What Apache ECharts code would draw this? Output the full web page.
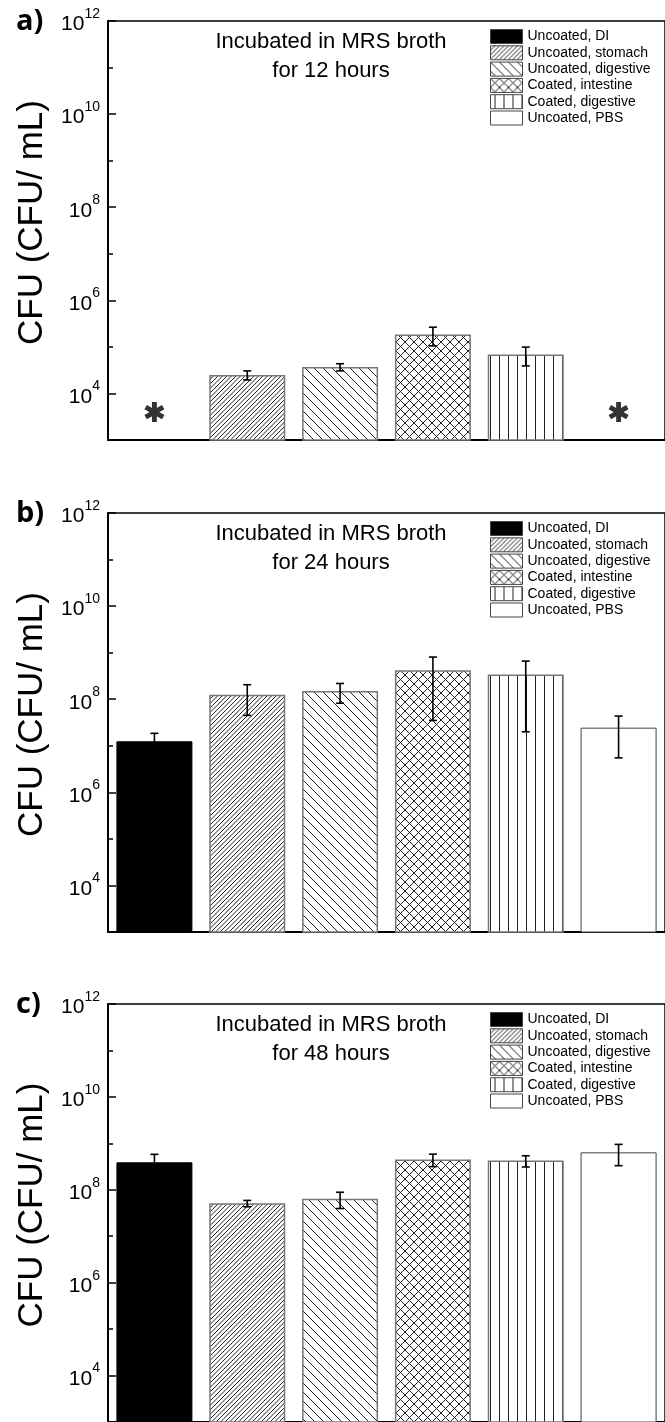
<!DOCTYPE html>
<html>
<head>
<meta charset="utf-8">
<title>CFU after incubation in MRS broth</title>
<script src="https://cdn.jsdelivr.net/npm/echarts@6/dist/echarts.min.js"></script>
<style>
  html, body { margin: 0; padding: 0; background: #fff; }
  #chart { width: 665px; height: 1422px; }
</style>
</head>
<body>
<div id="chart"></div>
<script>
// categories / legend entries
const groups = ['Uncoated, DI', 'Uncoated, stomach', 'Uncoated, digestive', 'Coated, intestine', 'Coated, digestive', 'Uncoated, PBS'];
const panelLetters = ['a)', 'b)', 'c)'];
const incubationTimes = ['12 hours', '24 hours', '48 hours'];

// CFU/mL, mean and standard deviation. null = no growth (marked with *)
const mean12h = [null, 2.5e4, 3.7e4, 1.85e5, 6.9e4, null];
const sd12h = [null, 0.55e4, 0.65e4, 0.8e5, 3.0e4, null];
const mean24h = [1.25e7, 1.25e8, 1.5e8, 4.2e8, 3.4e8, 2.45e7];
const sd24h = [0.6e7, 0.8e8, 0.68e8, 3.85e8, 3.2e8, 1.9e7];
const mean48h = [3.9e8, 5.1e7, 6.4e7, 4.5e8, 4.25e8, 6.4e8];
const sd48h = [1.9e8, 0.8e7, 2.45e7, 1.35e8, 1.15e8, 3.1e8];

// y axis in powers of ten
const yMinExp = 3;
const yMaxExp = 12;
const labelExps = [4, 6, 8, 10, 12];

const panels = [
  { mean: mean12h, sd: sd12h },
  { mean: mean24h, sd: sd24h },
  { mean: mean48h, sd: sd48h }
];
const panelTops = [21, 513, 1004];
const plotHeight = 419;
const FONT = 'Liberation Sans, Arial, sans-serif';
const starLevel = 3.6; // where the "*" sits (log10)

// hatch fills
function makePattern(size, draw) {
  const c = document.createElement('canvas');
  c.width = size;
  c.height = size;
  const ctx = c.getContext('2d');
  ctx.fillStyle = '#fff';
  ctx.fillRect(0, 0, size, size);
  ctx.strokeStyle = '#222';
  ctx.lineWidth = 1;
  ctx.beginPath();
  draw(ctx, size);
  ctx.stroke();
  return { image: c, repeat: 'repeat' };
}
const fills = [
  '#000',
  makePattern(9, (ctx, s) => {
    for (let c = 0; c <= 2 * s; c += s / 2) { ctx.moveTo(c, 0); ctx.lineTo(c - s, s); }
  }),
  makePattern(9, (ctx, s) => {
    for (let c = -s; c <= s; c += s) { ctx.moveTo(c, 0); ctx.lineTo(c + s, s); }
  }),
  makePattern(9, (ctx, s) => {
    for (let c = -s; c <= s; c += s) { ctx.moveTo(c, 0); ctx.lineTo(c + s, s); }
    for (let c = 0; c <= 2 * s; c += s) { ctx.moveTo(c, 0); ctx.lineTo(c - s, s); }
  }),
  makePattern(9, (ctx, s) => { ctx.moveTo(4.5, 0); ctx.lineTo(4.5, s); }),
  '#fff'
];
const borderColors = ['#000', '#777', '#777', '#777', '#777', '#444'];
const borderWidths = [1, 1.5, 1.5, 1.5, 1.5, 1];

// six-armed asterisk symbol
function asteriskPath() {
  let d = '';
  [0, 60, 120].forEach(a => {
    const r = a * Math.PI / 180;
    const L = 50, W = 12;
    const pts = [[-W, -L], [W, -L], [W, L], [-W, L]].map(([x, y]) =>
      [50 + x * Math.cos(r) - y * Math.sin(r), 50 + x * Math.sin(r) + y * Math.cos(r)]);
    d += 'M' + pts.map(p => p[0].toFixed(2) + ' ' + p[1].toFixed(2)).join(' L') + ' Z ';
  });
  return 'path://' + d;
}

function errorBar(params, api) {
  const x = api.value(0);
  const lo = api.coord([x, api.value(1)]);
  const hi = api.coord([x, api.value(2)]);
  const half = 4;
  const style = { stroke: '#000', lineWidth: 1.6, fill: null };
  return {
    type: 'group',
    children: [
      { type: 'line', shape: { x1: hi[0], y1: hi[1], x2: lo[0], y2: lo[1] }, style },
      { type: 'line', shape: { x1: hi[0] - half, y1: hi[1], x2: hi[0] + half, y2: hi[1] }, style },
      { type: 'line', shape: { x1: lo[0] - half, y1: lo[1], x2: lo[0] + half, y2: lo[1] }, style }
    ]
  };
}

const grids = [], xAxes = [], yAxes = [], legends = [], series = [], graphics = [];

panels.forEach((p, k) => {
  const top = panelTops[k];
  grids.push({
    left: 108, top: top, width: 564, height: plotHeight,
    show: true, borderColor: '#000', borderWidth: 1.5
  });
  xAxes.push({
    type: 'category', gridIndex: k, data: groups,
    axisLine: { lineStyle: { color: '#000', width: 2 } },
    axisTick: { show: false },
    axisLabel: { show: false }
  });
  yAxes.push({
    type: 'value', gridIndex: k, min: yMinExp, max: yMaxExp, interval: 1,
    axisLine: { show: true, lineStyle: { color: '#000', width: 2 } },
    axisTick: { show: true, inside: true, length: 5, lineStyle: { color: '#000', width: 1.5 } },
    splitLine: { show: false },
    axisLabel: {
      margin: 8,
      formatter: v => labelExps.indexOf(Math.round(v)) >= 0 ? '{b|10}{s|' + Math.round(v) + '}' : '',
      rich: {
        b: { fontSize: 21, fontFamily: FONT, color: '#000', lineHeight: 28, verticalAlign: 'bottom' },
        s: { fontSize: 14, fontFamily: FONT, color: '#000', lineHeight: 14, verticalAlign: 'top' }
      }
    },
    name: 'CFU (CFU/ mL)',
    nameLocation: 'middle',
    nameGap: 53,
    nameTextStyle: { fontSize: 35, fontFamily: FONT, color: '#000', padding: [0, 0, 0, 16] }
  });
  yAxes.push({
    type: 'value', gridIndex: k, min: yMinExp, max: yMaxExp, interval: 1,
    position: 'left', offset: 0,
    axisLine: { show: false },
    axisLabel: { show: false },
    splitLine: { show: false },
    axisTick: { show: true, inside: true, length: 8, customValues: labelExps, lineStyle: { color: '#000', width: 1.5 } }
  });
  legends.push({
    orient: 'vertical', left: 490, top: top + 8, padding: 0,
    icon: 'rect', itemWidth: 32, itemHeight: 14, itemGap: 1.3,
    selectedMode: false,
    itemStyle: { borderColor: '#444', borderWidth: 1 },
    textStyle: { fontFamily: FONT, fontSize: 14, color: '#000', lineHeight: 14 },
    data: groups
  });

  groups.forEach((g, i) => {
    series.push({
      type: 'bar', name: g, xAxisIndex: k, yAxisIndex: k * 2,
      barWidth: 76, barGap: '-100%', clip: true,
      itemStyle: { color: fills[i], borderColor: borderColors[i], borderWidth: borderWidths[i] },
      data: groups.map((_, j) => (j === i && p.mean[j] != null) ? Math.log10(p.mean[j]) : '-')
    });
  });

  const errData = [];
  p.mean.forEach((m, j) => {
    if (m == null) return;
    const lo = m - p.sd[j] > 0 ? Math.log10(m - p.sd[j]) : yMinExp;
    errData.push([j, lo, Math.log10(m + p.sd[j])]);
  });
  series.push({
    type: 'custom', xAxisIndex: k, yAxisIndex: k * 2, z: 5,
    renderItem: errorBar, data: errData
  });

  const stars = [];
  p.mean.forEach((m, j) => { if (m == null) stars.push([j, starLevel]); });
  if (stars.length) {
    series.push({
      type: 'scatter', xAxisIndex: k, yAxisIndex: k * 2, z: 5,
      symbol: asteriskPath(), symbolSize: 20,
      itemStyle: { color: '#000' },
      data: stars
    });
  }

  graphics.push({
    type: 'text', x: 331, y: top + 6,
    style: {
      text: 'Incubated in MRS broth\nfor ' + incubationTimes[k],
      fontSize: 22, fontFamily: FONT, fill: '#000',
      align: 'center', verticalAlign: 'top', lineHeight: 29
    }
  });
  graphics.push({
    type: 'text', x: 16, y: top + 1,
    style: {
      text: panelLetters[k], fontSize: 29, fontWeight: 'bold',
      fontFamily: 'Open Sans, Noto Sans, sans-serif', fill: '#000',
      align: 'left', verticalAlign: 'middle'
    }
  });
});

const chart = echarts.init(document.getElementById('chart'));
chart.setOption({
  animation: false,
  backgroundColor: '#fff',
  grid: grids,
  xAxis: xAxes,
  yAxis: yAxes,
  legend: legends,
  graphic: graphics,
  series: series
});
</script>
</body>
</html>
